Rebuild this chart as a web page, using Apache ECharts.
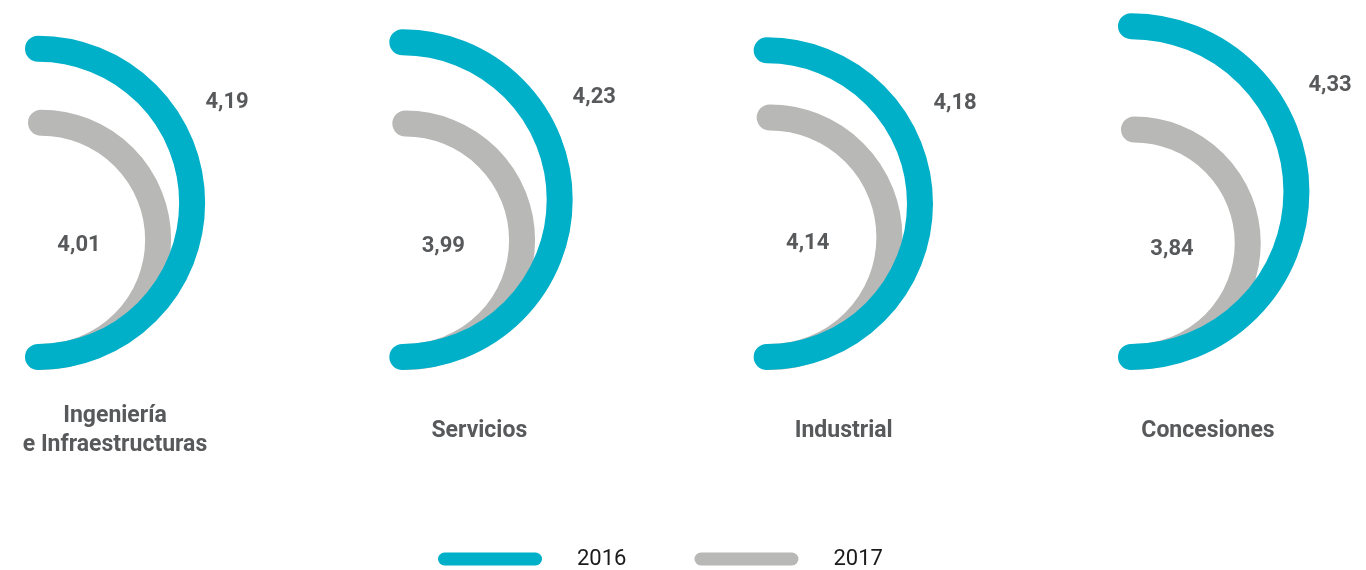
<!DOCTYPE html>
<html>
<head>
<meta charset="utf-8">
<script src="https://cdn.jsdelivr.net/npm/echarts@6/dist/echarts.min.js"></script>
<style>
  html, body { margin: 0; padding: 0; background: #fff; }
  #chart { width: 1366px; height: 570px; }
</style>
</head>
<body>
<div id="chart"></div>
<script>
// datos
var categories = ['Ingeniería\ne Infraestructuras', 'Servicios', 'Industrial', 'Concesiones'];
var values2016 = [4.19, 4.23, 4.18, 4.33];
var values2017 = [4.01, 3.99, 4.14, 3.84];
var seriesNames = ['2016', '2017'];

var BLUE = '#00afc8';
var GREY = '#b8b9b6';
var TEXT = '#58595b';

function fmt(v) {
  return v.toFixed(2).replace('.', ',');
}

// arco semicircular: arriba = valor, abajo = base del grid
function arcItem(color, dx, outerLabel) {
  return function (params, api) {
    var top = api.coord([api.value(0), api.value(1)]);
    var bottom = params.coordSys.y + params.coordSys.height;
    var r = (bottom - top[1]) / 2;
    var cx = top[0] + dx;
    var cy = top[1] + r;
    var lx, ly;
    if (outerLabel) {
      var a = -28 * Math.PI / 180;
      lx = cx + (r + 60) * Math.cos(a);
      ly = cy + (r + 60) * Math.sin(a);
    } else {
      lx = cx + 38;
      ly = cy + 6;
    }
    return {
      type: 'group',
      children: [{
        type: 'arc',
        shape: { cx: cx, cy: cy, r: r, startAngle: -Math.PI / 2, endAngle: Math.PI / 2, clockwise: true },
        style: { stroke: color, fill: null, lineWidth: 26, lineCap: 'round' }
      }, {
        type: 'text',
        x: lx,
        y: ly,
        style: {
          text: fmt(api.value(1)),
          fill: TEXT,
          font: 'bold 22px Roboto',
          align: 'center',
          verticalAlign: 'middle'
        }
      }]
    };
  };
}

var pill = 'path://M6.5,0H97.5A6.5,6.5,0,0,1,97.5,13H6.5A6.5,6.5,0,0,1,6.5,0Z';

var myChart = echarts.init(document.getElementById('chart'));
var option = {
  animation: false,
  grid: { left: 38, right: 235, top: 10, bottom: 213, outerBoundsMode: 'none', containLabel: false },
  legend: {
    left: 433,
    top: 543,
    itemWidth: 104,
    itemHeight: 13,
    itemGap: 68,
    data: [
      { name: seriesNames[0], icon: pill },
      { name: seriesNames[1], icon: pill }
    ],
    textStyle: { color: '#1a1a1a', fontSize: 22, fontFamily: 'Roboto', padding: [0, 0, 0, 30] }
  },
  xAxis: {
    type: 'category',
    data: categories,
    boundaryGap: false,
    axisLine: { show: false },
    axisTick: { show: false },
    axisLabel: {
      interval: 0,
      margin: 74,
      hideOverlap: false,
      verticalAlign: 'middle',
      align: 'center',
      padding: [0, 0, 0, 154],
      color: TEXT,
      fontSize: 23,
      fontWeight: 'bold',
      fontFamily: 'Roboto',
      lineHeight: 29
    }
  },
  yAxis: [
    { type: 'value', min: 2.28, max: 4.43, show: false, splitLine: { show: false } },
    { type: 'value', min: -1.85, max: 6.83, show: false, splitLine: { show: false } }
  ],
  series: [
    {
      name: seriesNames[1],
      type: 'custom',
      yAxisIndex: 1,
      itemStyle: { color: GREY },
      renderItem: arcItem(GREY, 3, false),
      data: values2017.map(function (v, i) { return [i, v]; }),
      z: 1
    },
    {
      name: seriesNames[0],
      type: 'custom',
      yAxisIndex: 0,
      itemStyle: { color: BLUE },
      renderItem: arcItem(BLUE, 0, true),
      data: values2016.map(function (v, i) { return [i, v]; }),
      z: 2
    }
  ]
};
myChart.setOption(option);
</script>
</body>
</html>
